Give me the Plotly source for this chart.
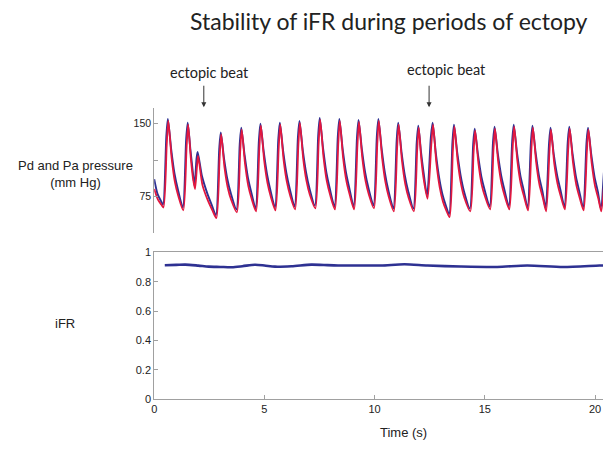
import plotly.graph_objects as go

# ---------------- data ----------------
# Pa (aortic, blue) pressure trace: time (s), pressure (mm Hg)
pa_time = [0.00, 0.15, 0.30,
           0.40, 0.55, 0.62, 0.77, 0.92, 1.07,
           1.30, 1.45, 1.52, 1.64, 1.74,
           1.83, 1.92, 1.97, 2.17, 2.40, 2.62,
           2.80, 2.95, 3.02, 3.17, 3.32, 3.47,
           3.73, 3.88, 3.95, 4.10, 4.25, 4.40,
           4.60, 4.75, 4.82, 4.97, 5.12, 5.27,
           5.48, 5.63, 5.70, 5.85, 6.00, 6.15,
           6.37, 6.52, 6.59, 6.74, 6.89, 7.04,
           7.29, 7.44, 7.51, 7.66, 7.81, 7.96,
           8.18, 8.33, 8.40, 8.55, 8.70, 8.85,
           9.05, 9.20, 9.27, 9.42, 9.57, 9.72,
           9.95, 10.10, 10.17, 10.32, 10.47, 10.62,
           10.85, 11.00, 11.07, 11.22, 11.37, 11.52,
           11.76, 11.91, 11.98, 12.10, 12.22,
           12.38, 12.55, 12.63, 12.78, 12.93, 13.08, 13.23,
           13.38, 13.53, 13.60, 13.75, 13.90, 14.05,
           14.32, 14.47, 14.54, 14.69, 14.84, 14.99,
           15.22, 15.37, 15.44, 15.59, 15.74, 15.89,
           16.09, 16.24, 16.31, 16.46, 16.61, 16.76,
           16.94, 17.09, 17.16, 17.31, 17.46, 17.61,
           17.76, 17.91, 17.98, 18.13, 18.28, 18.43,
           18.61, 18.76, 18.83, 18.98, 19.13, 19.28,
           19.46, 19.61, 19.68, 19.83, 19.98, 20.13, 20.26, 20.40]
pa_mmhg = [93, 78, 71,
           67, 137, 155, 124, 99, 83,
           64, 134, 151, 124, 103,
           86, 114, 121, 96, 79, 66,
           56, 124, 141, 114, 93, 79,
           62, 129, 146, 118, 95, 80,
           63, 133, 150, 121, 98, 82,
           64, 134, 151, 122, 99, 83,
           65, 136, 153, 123, 100, 84,
           66, 138, 156, 125, 100, 84,
           65, 137, 155, 124, 100, 84,
           65, 136, 154, 124, 100, 84,
           66, 137, 155, 124, 99, 82,
           63, 133, 151, 121, 97, 81,
           63, 131, 148, 122, 100,
           76, 136, 151, 119, 94, 77, 66,
           57, 131, 149, 120, 97, 81,
           63, 129, 145, 118, 96, 82,
           65, 131, 147, 119, 97, 82,
           65, 132, 149, 120, 97, 82,
           64, 131, 148, 119, 96, 81,
           63, 129, 146, 118, 97, 82,
           65, 131, 147, 119, 96, 81,
           64, 130, 146, 118, 95, 80, 63, 100]

# Pd (distal, red) pressure trace: time (s), pressure (mm Hg)
pd_time = [0.00, 0.17, 0.32,
           0.42, 0.57, 0.64, 0.79, 0.94, 1.09,
           1.32, 1.47, 1.54, 1.66, 1.76,
           1.85, 1.94, 1.99, 2.19, 2.42, 2.64,
           2.82, 2.97, 3.04, 3.19, 3.34, 3.49,
           3.75, 3.90, 3.97, 4.12, 4.27, 4.42,
           4.62, 4.77, 4.84, 4.99, 5.14, 5.29,
           5.50, 5.65, 5.72, 5.87, 6.02, 6.17,
           6.39, 6.54, 6.61, 6.76, 6.91, 7.06,
           7.31, 7.46, 7.53, 7.68, 7.83, 7.98,
           8.20, 8.35, 8.42, 8.57, 8.72, 8.87,
           9.07, 9.22, 9.29, 9.44, 9.59, 9.74,
           9.97, 10.12, 10.19, 10.34, 10.49, 10.64,
           10.87, 11.02, 11.09, 11.24, 11.39, 11.54,
           11.78, 11.93, 12.00, 12.12, 12.24,
           12.40, 12.57, 12.65, 12.80, 12.95, 13.10, 13.25,
           13.40, 13.55, 13.62, 13.77, 13.92, 14.07,
           14.34, 14.49, 14.56, 14.71, 14.86, 15.01,
           15.24, 15.39, 15.46, 15.61, 15.76, 15.91,
           16.11, 16.26, 16.33, 16.48, 16.63, 16.78,
           16.96, 17.11, 17.18, 17.33, 17.48, 17.63,
           17.78, 17.93, 18.00, 18.15, 18.30, 18.45,
           18.63, 18.78, 18.85, 19.00, 19.15, 19.30,
           19.48, 19.63, 19.70, 19.85, 20.00, 20.15, 20.28, 20.42]
pd_mmhg = [83, 72, 67,
           64, 129, 153, 115, 90, 76,
           61, 126, 149, 115, 94,
           83, 106, 117, 87, 72, 61,
           53, 116, 139, 105, 84, 72,
           59, 121, 144, 109, 86, 73,
           60, 125, 148, 112, 89, 75,
           61, 126, 149, 113, 90, 76,
           62, 128, 151, 114, 91, 77,
           63, 130, 154, 116, 91, 77,
           62, 129, 153, 115, 91, 77,
           62, 128, 152, 115, 91, 77,
           63, 129, 153, 115, 90, 75,
           60, 125, 149, 112, 88, 74,
           60, 123, 146, 113, 91,
           73, 128, 149, 110, 85, 70, 61,
           54, 123, 147, 111, 88, 74,
           60, 121, 143, 109, 87, 75,
           62, 123, 145, 110, 88, 75,
           62, 124, 147, 111, 88, 75,
           61, 123, 146, 110, 87, 74,
           60, 121, 144, 109, 88, 75,
           62, 123, 145, 110, 87, 74,
           61, 122, 144, 109, 86, 73, 60, 92]

# iFR trace
ifr_time = [0.48, 1.00, 1.41, 2.00, 2.47, 3.00, 3.52, 4.00, 4.57, 5.00, 5.48,
            6.23, 7.13, 7.70, 8.34, 9.30, 10.29, 11.35, 12.40, 13.90, 15.56,
            16.92, 18.56, 20.20, 20.40]
ifr_value = [0.912, 0.914, 0.916, 0.909, 0.902, 0.900, 0.898, 0.905, 0.915, 0.910, 0.902,
             0.905, 0.916, 0.913, 0.910, 0.910, 0.910, 0.918, 0.910, 0.903, 0.900,
             0.910, 0.900, 0.910, 0.910]

ectopic_times = [2.25, 12.47]
ectopic_label = "ectopic beat"

pressure_ticks = [75, 112.5, 150]
pressure_ticktext = ["75", "", "150"]
time_ticks = [0, 5, 10, 15, 20]

# ---------------- figure ----------------
BLUE = "#2E3192"
RED = "#E3173E"
AXC = "#A0A0A0"
TXT = "#222222"
SANS = "Liberation Sans, Arial, sans-serif"
CAL = "Lato, Open Sans, sans-serif"

fig = go.Figure()
fig.add_trace(go.Scatter(x=pa_time, y=pa_mmhg, mode="lines", xaxis="x", yaxis="y",
                         line=dict(color=BLUE, width=1.9, shape="spline", smoothing=0.7),
                         showlegend=False))
fig.add_trace(go.Scatter(x=pd_time, y=pd_mmhg, mode="lines", xaxis="x", yaxis="y",
                         line=dict(color=RED, width=1.8, shape="spline", smoothing=0.7),
                         showlegend=False))
fig.add_trace(go.Scatter(x=ifr_time, y=ifr_value, mode="lines", xaxis="x2", yaxis="y2",
                         line=dict(color=BLUE, width=2.6, shape="spline", smoothing=0.8),
                         showlegend=False))

x_dom = [0.252, 1.0]
x_rng = [0, 20.36]

fig.update_layout(
    width=603, height=450,
    margin=dict(l=0, r=0, t=0, b=0),
    paper_bgcolor="white", plot_bgcolor="white",
    font=dict(family=SANS, size=11, color=TXT),
    xaxis=dict(domain=x_dom, range=x_rng, visible=False, anchor="y"),
    yaxis=dict(domain=[0.4822, 0.7667], range=[38, 166], anchor="x",
               showline=True, linecolor=AXC, linewidth=1,
               ticks="inside", ticklen=4, tickcolor=AXC,
               tickvals=pressure_ticks, ticktext=pressure_ticktext,
               showgrid=False, zeroline=False, tickfont=dict(size=10.5)),
    xaxis2=dict(domain=x_dom, range=x_rng, anchor="y2",
                showline=True, linecolor=AXC, linewidth=1, mirror=True,
                ticks="inside", ticklen=4, tickcolor=AXC,
                tickvals=time_ticks, showgrid=False, zeroline=False,
                tickfont=dict(size=11)),
    yaxis2=dict(domain=[0.1022, 0.4378], range=[0, 1], anchor="x2",
                showline=True, linecolor=AXC, linewidth=1,
                ticks="inside", ticklen=4, tickcolor=AXC,
                dtick=0.2, showgrid=False, zeroline=False,
                tickfont=dict(size=11)),
)

annotations = [
    dict(text="Stability of iFR during periods of ectopy", xref="paper", yref="paper",
         x=387.5 / 603, y=1 - 15 / 450, xanchor="center", yanchor="middle",
         showarrow=False, font=dict(family=CAL, size=23, color=TXT)),
    dict(text="Pd and Pa pressure<br>(mm Hg)", xref="paper", yref="paper",
         x=73 / 603, y=1 - 173 / 450, xanchor="center", yanchor="middle",
         showarrow=False, font=dict(family=SANS, size=13, color=TXT)),
    dict(text="iFR", xref="paper", yref="paper",
         x=62 / 603, y=1 - 326 / 450, xanchor="center", yanchor="middle",
         showarrow=False, font=dict(family=SANS, size=13, color=TXT)),
    dict(text="Time (s)", xref="paper", yref="paper",
         x=402 / 603, y=1 - 438 / 450, xanchor="center", yanchor="middle",
         showarrow=False, font=dict(family=SANS, size=13, color=TXT)),
    dict(text=ectopic_label, xref="paper", yref="paper",
         x=208 / 603, y=1 - 68 / 450, xanchor="center", yanchor="middle",
         showarrow=False, font=dict(family=CAL, size=14.5, color=TXT)),
    dict(text=ectopic_label, xref="paper", yref="paper",
         x=446 / 603, y=1 - 65 / 450, xanchor="center", yanchor="middle",
         showarrow=False, font=dict(family=CAL, size=14.5, color=TXT)),
]
for t in ectopic_times:
    annotations.append(dict(text="", xref="x", yref="paper", x=t, y=1 - 104 / 450,
                            ax=0, ay=-23, axref="pixel", ayref="pixel",
                            showarrow=True, arrowhead=2, arrowsize=1, arrowwidth=1,
                            arrowcolor="#333333"))
fig.update_layout(annotations=annotations)

fig.write_html("out.html")
